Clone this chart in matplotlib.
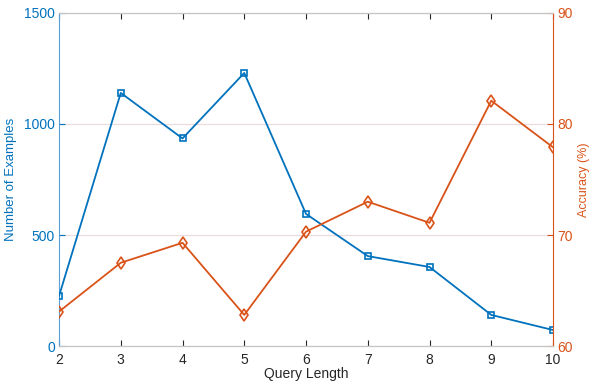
import matplotlib.pyplot as plt

plt.rcParams['font.family'] = ['Liberation Sans', 'DejaVu Sans']
plt.rcParams['font.size'] = 10

query_len = [2, 3, 4, 5, 6, 7, 8, 9, 10]
n_examples = [225, 1140, 935, 1230, 595, 405, 356, 140, 72]
accuracy = [63.1, 67.5, 69.3, 62.8, 70.3, 73.0, 71.1, 82.1, 77.9]

blue = '#0072BD'
orange = '#D95319'
dark = '#262626'

fig = plt.figure(figsize=(5.89, 3.82), dpi=100)
ax = fig.add_axes([0.1002, 0.0942, 0.8387, 0.8718])
ax2 = ax.twinx()

ax.plot(query_len, n_examples, color=blue, lw=1.3, marker='s', ms=5,
        mfc='none', mec=blue, mew=1.2, zorder=3)
ax2.plot(query_len, accuracy, color=orange, lw=1.3, marker='d', ms=6,
         mfc='none', mec=orange, mew=1.2, zorder=3)

ax.set_xlim(2, 10)
ax.set_ylim(0, 1500)
ax.set_yticks([0, 500, 1000, 1500])
ax2.set_ylim(60, 90)
ax2.set_yticks([60, 70, 80, 90])
ax.set_xticks(query_len)

ax.yaxis.grid(True, color='#eadcdc', lw=0.9)
ax.set_axisbelow(True)

for a in (ax, ax2):
    a.spines['top'].set_color('#c8c4c4')
    a.spines['bottom'].set_color('#c8c4c4')
ax.spines['left'].set_color('#5aa0d8')
ax.spines['right'].set_visible(False)
ax2.spines['left'].set_visible(False)
ax2.spines['right'].set_color(orange)

ax.tick_params(axis='x', direction='in', top=True, length=4, color=dark,
               labelcolor=dark, pad=5)
ax.tick_params(axis='y', direction='in', length=4, color=blue,
               labelcolor=blue, pad=3)
ax2.tick_params(axis='y', direction='in', length=4, color=orange,
                labelcolor=orange, pad=3)

ax.set_xlabel('Query Length', color=dark, labelpad=0)
ax.set_ylabel('Number of Examples', color=blue, fontsize=9.5, labelpad=5)
ax2.set_ylabel('Accuracy (%)', color=orange, fontsize=9, labelpad=4)

fig.savefig('out.png', dpi=100)
